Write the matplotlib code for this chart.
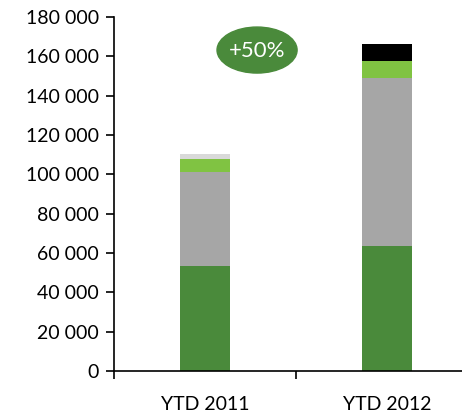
import matplotlib.pyplot as plt
from matplotlib.patches import Ellipse
from matplotlib.ticker import FuncFormatter, FixedLocator

plt.rcParams['font.family'] = ['Lato', 'DejaVu Sans']

categories = ['YTD 2011', 'YTD 2012']
dark_green = [53400, 63500]
grey = [47600, 85500]
light_green = [6800, 8600]
light_grey = [2500, 0]
black = [0, 8600]

segments = [
    (dark_green, '#4a8a3b'),
    (grey, '#a6a6a6'),
    (light_green, '#80c342'),
    (light_grey, '#d9d9d9'),
    (black, '#000000'),
]

fig = plt.figure(figsize=(4.62, 4.12), dpi=100)
ax = fig.add_axes([0.2468, 0.0995, 0.7878, 0.8592])

x = range(len(categories))
bottom = [0] * len(categories)
for values, color in segments:
    ax.bar(x, values, width=0.28, bottom=bottom, color=color, edgecolor='none')
    bottom = [b + v for b, v in zip(bottom, values)]

ax.set_xlim(-0.5, 1.5)
ax.set_ylim(0, 180000)
ax.set_yticks(range(0, 180001, 20000))
ax.yaxis.set_major_formatter(FuncFormatter(lambda v, p: f'{int(v):,}'.replace(',', ' ')))
ax.set_xticks(list(x))
ax.set_xticklabels(categories)
ax.xaxis.set_minor_locator(FixedLocator([-0.5, 0.5, 1.5]))
ax.tick_params(axis='x', which='major', length=0, pad=18, labelsize=14)
ax.tick_params(axis='x', which='minor', length=6, width=1.2, direction='out')
ax.tick_params(axis='y', length=6, width=1.2, direction='out', pad=5, labelsize=14)

for side in ['top', 'right']:
    ax.spines[side].set_visible(False)
for side in ['left', 'bottom']:
    ax.spines[side].set_linewidth(1.2)

ax.add_patch(Ellipse((0.286, 163200), 0.44, 23400, color='#4a8a3b', clip_on=False))
ax.text(0.286, 162600, '+50%', color='white', fontsize=16, ha='center', va='center')

fig.savefig('out.png', dpi=100)
